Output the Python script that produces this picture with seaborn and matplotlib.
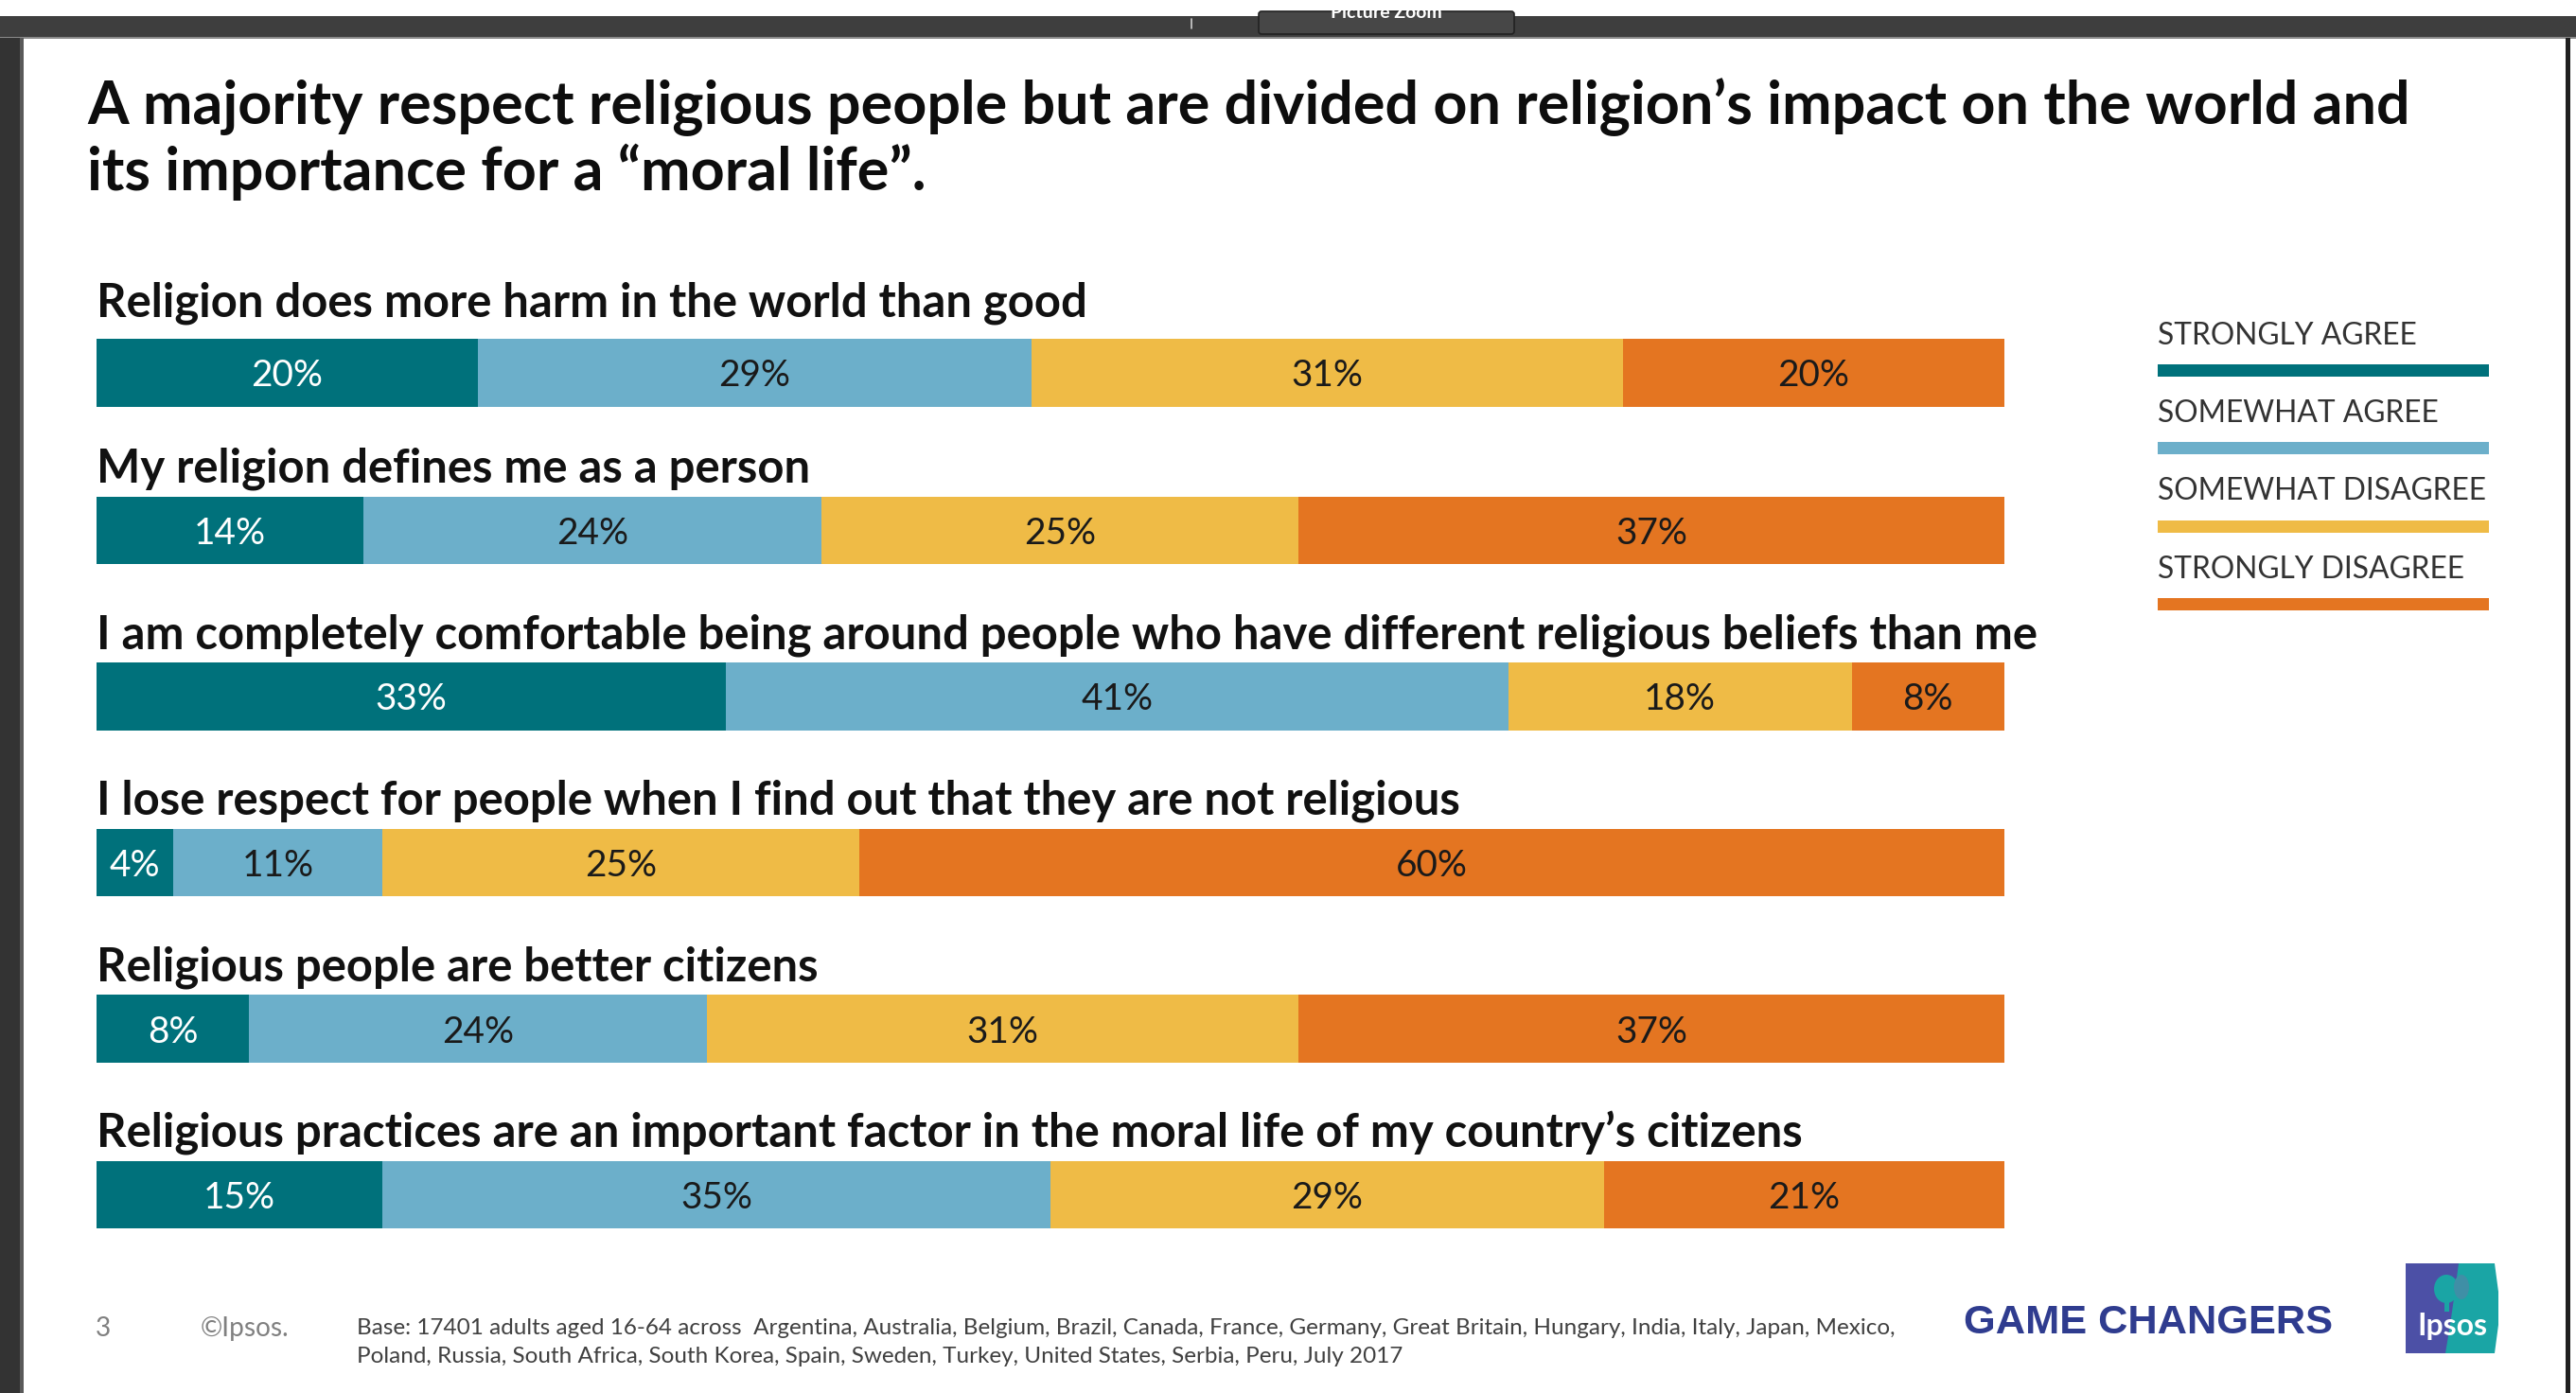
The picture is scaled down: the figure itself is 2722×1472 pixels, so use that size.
import matplotlib
matplotlib.use("Agg")
import matplotlib.pyplot as plt
import matplotlib.transforms as mtransforms
import seaborn as sns
import pandas as pd
import numpy as np
from matplotlib.patches import Rectangle, Polygon, Ellipse, FancyBboxPatch

# ---------------- data ----------------
title_lines = [
    "A majority respect religious people but are divided on religion\u2019s impact on the world and",
    "its importance for a \u201cmoral life\u201d.",
]
questions = [
    "Religion does more harm in the world than good",
    "My religion defines me as a person",
    "I am completely comfortable being around people who have different religious beliefs than me",
    "I lose respect for people when I find out that they are not religious",
    "Religious people are better citizens",
    "Religious practices are an important factor in the moral life of my country\u2019s citizens",
]
categories = ["STRONGLY AGREE", "SOMEWHAT AGREE", "SOMEWHAT DISAGREE", "STRONGLY DISAGREE"]
strongly_agree = [20, 14, 33, 4, 8, 15]
somewhat_agree = [29, 24, 41, 11, 24, 35]
somewhat_disagree = [31, 25, 18, 25, 31, 29]
strongly_disagree = [20, 37, 8, 60, 37, 21]
series = [strongly_agree, somewhat_agree, somewhat_disagree, strongly_disagree]
colors = ["#00717b", "#6cafca", "#efbb46", "#e47521"]
label_colors = ["white", "#1a1a1a", "#1a1a1a", "#1a1a1a"]

footer_page = "3"
footer_copy = "\u00a9Ipsos."
footer_base = [
    "Base: 17401 adults aged 16-64 across  Argentina, Australia, Belgium, Brazil, Canada, France, Germany, Great Britain, Hungary, India, Italy, Japan, Mexico,",
    "Poland, Russia, South Africa, South Korea, Spain, Sweden, Turkey, United States, Serbia, Peru, July 2017",
]
brand = "GAME CHANGERS"

# ---------------- figure ----------------
sns.set_theme(style="white")
plt.rcParams["font.family"] = ["Lato", "DejaVu Sans"]

W, H = 2722, 1472
fig = plt.figure(figsize=(W / 100, H / 100), dpi=100)
fig.patch.set_facecolor("white")

bg = fig.add_axes([0, 0, 1, 1], zorder=0)
bg.set_xlim(0, W)
bg.set_ylim(H, 0)
bg.axis("off")

renderer = fig.canvas.get_renderer()


def fit(t, width):
    bb = t.get_window_extent(renderer=renderer)
    t.set_fontsize(t.get_fontsize() * width / bb.width)
    return t.get_fontsize()


# screen frame (screenshot chrome)
bg.add_patch(Rectangle((0, 17), W, 23, facecolor="#3e3e3e", edgecolor="none"))
bg.add_patch(Rectangle((0, 39), W, 2, facecolor="#8a8a8a", edgecolor="none"))
bg.add_patch(FancyBboxPatch((1330, 12), 270, 24, boxstyle="round,pad=0,rounding_size=3",
                            facecolor="#474747", edgecolor="#222222", linewidth=1.2))
tab_t = bg.text(1465, 22, "Picture Zoom", color="white", ha="center", va="bottom",
                fontsize=14, weight="bold")
tab_t.set_clip_path(Rectangle((1330, 17), 270, 15, transform=bg.transData))
bg.plot([1259, 1259], [20, 30], color="#cfcfcf", lw=1.2)
bg.add_patch(Rectangle((0, 40), 25, H - 40, facecolor="#333333", edgecolor="none"))
bg.add_patch(Rectangle((21, 40), 4, H - 40, facecolor="#5a5a5a", edgecolor="none"))
bg.add_patch(Rectangle((2711, 40), 5, H - 40, facecolor="#1f1f1f", edgecolor="none"))

# title
t1 = bg.text(92, 113, title_lines[0], ha="left", va="center", weight="bold",
             color="#0d0d0d", fontsize=40)
fs = fit(t1, 2456)
bg.text(92, 182, title_lines[1], ha="left", va="center", weight="bold",
        color="#0d0d0d", fontsize=fs)

# ---------------- bars ----------------
c0, step = 385.0, 175.5
top_px = c0 - step / 2
bot_px = c0 + step * 5.5
ax = fig.add_axes([102 / W, 1 - bot_px / H, 2016 / W, (bot_px - top_px) / H], zorder=2)
ax.patch.set_alpha(0)

rows = []
for qi, q in enumerate(questions):
    cum = 0
    for ci, cat in enumerate(categories):
        v = series[ci][qi]
        rows.append({"question": q, "category": cat, "value": v, "start": cum, "end": cum + v})
        cum += v
df = pd.DataFrame(rows)

for ci in range(len(categories) - 1, -1, -1):
    sub = df[df["category"] == categories[ci]]
    sns.barplot(data=sub, x="end", y="question", order=questions, color=colors[ci],
                saturation=1, width=0.41, orient="h", ax=ax, linewidth=0, errorbar=None)

ax.set_xlim(0, 100)
ax.set_ylim(5.5, -0.5)
ax.axis("off")

# the first bar sits slightly lower in the original slide
first_shift = ax.transData + mtransforms.ScaledTranslation(0, -0.09, fig.dpi_scale_trans)
for p in ax.patches:
    if abs(p.get_y() + p.get_height() / 2) < 0.1:
        p.set_transform(first_shift)

# percent labels
pct_texts = []
for _, r in df.iterrows():
    qi = questions.index(r["question"])
    ci = categories.index(r["category"])
    t = ax.text((r["start"] + r["end"]) / 2, qi, f"{r['value']}%", ha="center",
                va="center_baseline", color=label_colors[ci], fontsize=30)
    if qi == 0:
        t.set_transform(first_shift)
    pct_texts.append(t)
fs_pct = fit(pct_texts[0], 76)
for t in pct_texts:
    t.set_fontsize(fs_pct)

# question labels
q_texts = []
for qi, q in enumerate(questions):
    t = ax.text(0, qi - 0.37, q, ha="left", va="center", weight="bold",
                color="#111111", fontsize=36)
    q_texts.append(t)
s1 = fit(q_texts[0], 1046)
s3 = fit(q_texts[2], 2046)
fs_q = (s1 + s3) / 2
for t in q_texts:
    t.set_fontsize(fs_q)

# ---------------- legend ----------------
leg_text_y = [355, 437, 519, 602]
leg_line_y = [392, 474, 557, 639]
leg_texts = []
for ci, cat in enumerate(categories):
    t = bg.text(2280, leg_text_y[ci], cat, ha="left", va="center", color="#333333", fontsize=22)
    leg_texts.append(t)
    bg.add_patch(Rectangle((2280, leg_line_y[ci] - 7), 350, 13, facecolor=colors[ci],
                           edgecolor="none"))
fs_leg = fit(leg_texts[2], 346)
for t in leg_texts:
    t.set_fontsize(fs_leg)

# ---------------- footer ----------------
tp = bg.text(101, 1404, footer_page, ha="left", va="center", color="#808080", fontsize=14)
tc = bg.text(212, 1404, footer_copy, ha="left", va="center", color="#808080", fontsize=14)
fit(tc, 94)
tp.set_fontsize(tc.get_fontsize())
b1 = bg.text(377, 1403, footer_base[0], ha="left", va="center", color="#404040", fontsize=12)
fs_b = fit(b1, 1619)
bg.text(377, 1434, footer_base[1], ha="left", va="center", color="#404040", fontsize=fs_b)

gc = bg.text(2075, 1398, brand, ha="left", va="center", color="#2f3c8f", weight="bold",
             fontsize=28, family=["Liberation Sans Narrow", "Liberation Sans", "DejaVu Sans"])
fit(gc, 390)

# Ipsos logo
lx0, lx1, ly0, ly1 = 2542, 2640, 1335, 1430
bg.add_patch(Polygon([(lx0, ly0), (lx1 - 4, ly0), (lx1, ly0 + 30), (lx1, ly1 - 30),
                      (lx1 - 4, ly1), (lx0, ly1)], closed=True,
                     facecolor="#1aa5a5", edgecolor="none"))
bg.add_patch(Polygon([(lx0, ly0), (2598, ly0), (2594, 1365), (2589, 1400), (2584, ly1),
                      (lx0, ly1)], closed=True, facecolor="#4c50a6", edgecolor="none"))
bg.add_patch(Ellipse((2585, 1362), 26, 30, facecolor="#1aa5a5", edgecolor="none"))
bg.add_patch(Rectangle((2583, 1372), 5, 14, facecolor="#1aa5a5", edgecolor="none"))
bg.add_patch(Ellipse((2601, 1360), 16, 26, facecolor="#3f8fa6", edgecolor="none"))
ti = bg.text(2591, 1402, "Ipsos", ha="center", va="center", color="white",
             weight="bold", fontsize=22)
fit(ti, 74)

fig.savefig("out.png", dpi=100, facecolor="white")
